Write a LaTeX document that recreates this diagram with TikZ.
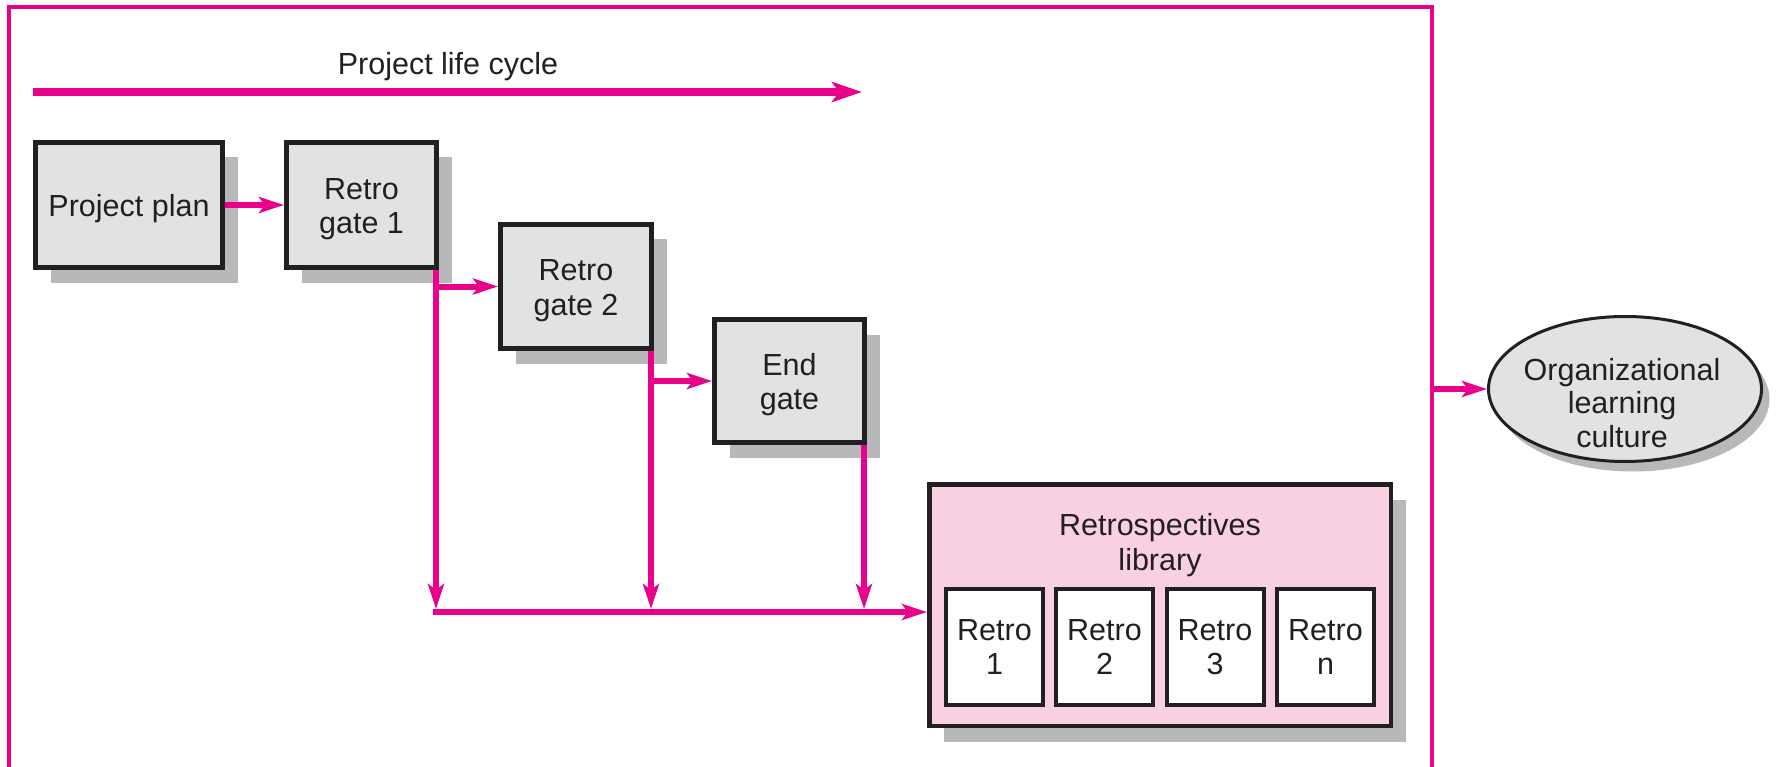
\documentclass[tikz,border=0pt]{standalone}
\usepackage{fontspec}
\setmainfont{Liberation Sans}
\usetikzlibrary{arrows.meta,shapes.geometric,shadows,calc}
\definecolor{magentaline}{RGB}{233,0,139}
\definecolor{boxgray}{RGB}{225,226,228}
\definecolor{shadowgray}{RGB}{183,184,186}
\definecolor{libpink}{RGB}{249,208,225}
\definecolor{inktext}{RGB}{35,31,32}
% taller first line, so the gate labels sit a little lower in their boxes
\newcommand{\gatestrut}{\rule{0pt}{29pt}}

\begin{document}
\begin{tikzpicture}[x=1pt,y=-1pt,
  txt/.style={font=\fontsize{30.5}{34.5}\selectfont, text=inktext, align=center, inner sep=0pt},
  gatebox/.style={txt, rectangle, draw=inktext, line width=5pt, fill=boxgray,
    minimum width=150pt, minimum height=125pt,
    drop shadow={shadow xshift=15pt, shadow yshift=-15pt, fill=shadowgray, opacity=1}},
  libbox/.style={rectangle, draw=inktext, line width=4.5pt, fill=libpink,
    minimum width=461.5pt, minimum height=241.5pt,
    drop shadow={shadow xshift=15pt, shadow yshift=-16pt, fill=shadowgray, opacity=1}},
  retrobox/.style={txt, rectangle, draw=inktext, line width=4pt, fill=white,
    minimum width=97pt, minimum height=116pt},
  goalshape/.style={ellipse, draw=inktext, line width=3pt, fill=boxgray,
    minimum width=273pt, minimum height=145pt, inner sep=0pt,
    drop shadow={shadow xshift=8pt, shadow yshift=-10pt, fill=shadowgray, opacity=1}},
  link/.style={draw=magentaline, line width=6pt},
  flow/.style={link, -{Stealth[length=25pt,width=16pt,inset=6pt]}},
]
\useasboundingbox (0,0) rectangle (1779,767);

% outer frame, open at the bottom
\draw[magentaline, line width=3.5pt, line join=miter] (9,775) -- (9,7) -- (1432,7) -- (1432,775);

% project life cycle arrow
\node[txt] (plc) at (448,67) {Project life cycle};
\coordinate (plcA) at (33,92);
\coordinate (plcB) at (862,92);
\draw[link, line width=8pt, -{Stealth[length=30pt,width=20pt,inset=7pt]}] (plcA) -- (plcB);

% gates
\node[gatebox, minimum width=187pt] (pp) at (129,205) {\gatestrut Project plan};
\node[gatebox] (g1) at (361.5,205) {\gatestrut Retro\\gate 1};
\node[gatebox, minimum width=151pt, minimum height=124pt] (g2) at (576,286.5) {\gatestrut Retro\\gate 2};
\node[gatebox, minimum height=123pt] (eg) at (789.5,381) {\gatestrut End\\gate};

% retrospectives library
\node[libbox] (lib) at (1160,605) {};
\node[txt] (libtitle) at (1160,545) {Retrospectives\\library};
\node[retrobox] (r1) at (994.5,647) {Retro\\1};
\node[retrobox] (r2) at (1104.5,647) {Retro\\2};
\node[retrobox] (r3) at (1215,647) {Retro\\3};
\node[retrobox] (rn) at (1325.5,647) {Retro\\n};

% organizational learning culture
\node[goalshape] (olc) at (1625,389) {};
\node[txt, font=\fontsize{30.5}{33.5}\selectfont] (olctext) at (1622,403) {Organizational\\learning\\culture};

% connectors
\coordinate (bus) at (436,612);
\coordinate (d1) at ($(g1.south east)+(-3,0)$);
\coordinate (d2) at ($(g2.south east)+(-3,0)$);
\coordinate (d3) at ($(eg.south east)+(-3,0)$);

\draw[flow] (pp.east) -- (g1.west);
\draw[flow] (d1 |- g2.west) -- (g2.west);
\draw[flow] (d2 |- eg.west) -- (eg.west);

\draw[flow] (d1) -- ($(d1 |- bus)+(0,-3)$);
\draw[flow] (d2) -- ($(d2 |- bus)+(0,-3)$);
\draw[flow] (d3) -- ($(d3 |- bus)+(0,-3)$);
\draw[flow] ($(d1 |- bus)+(-3,0)$) -- (lib.west |- bus);

\coordinate (frameR) at (1432,389);
\draw[flow] (frameR) -- (olc.west);
\end{tikzpicture}
\end{document}
